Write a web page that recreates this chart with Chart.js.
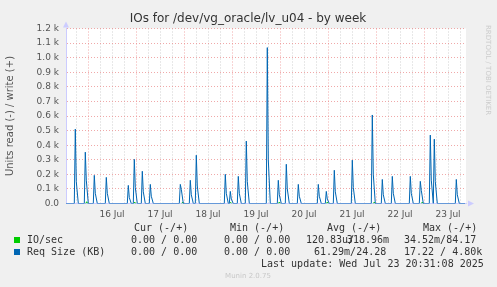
<!DOCTYPE html>
<html>
<head>
<meta charset="utf-8">
<script src="https://cdn.jsdelivr.net/npm/chart.js@4"></script>
<style>
  html, body { margin: 0; padding: 0; background: #f0f0f0; }
</style>
</head>
<body>
<canvas id="ioChart" width="497" height="287"></canvas>
<script>
// hours relative to 16 Jul 00:00
const spikeHours = [-6.35, -1.35, 3.15, 9.15, 20.15, 23.15, 27.15, 31.15, 46.15, 51.15, 54.15,
  68.65, 71.15, 75.15, 79.15, 89.65, 95.15, 99.15, 105.15, 115.15, 119.15, 123.15, 132.15,
  142.15, 147.15, 152.15, 161.15, 166.15, 171.15, 173.15, 184.15];
const spikePeaks = [510, 352, 193, 179, 124, 303, 221, 131, 131, 159, 331,
  200, 83, 186, 428, 1069, 159, 269, 131, 131, 83, 228, 297,
  607, 165, 186, 186, 152, 469, 441, 165];
const spikeTails = [150, 160, 70, 70, 40, 110, 80, 50, 97, 60, 120,
  70, 30, 70, 150, 300, 60, 100, 50, 50, 30, 80, 110,
  200, 60, 70, 70, 90, 160, 150, 60];
const ioBumpHours = [-0.65, 23.35, 47.35, 71.35, 95.65, 119.65, 143.15, 167.15];
const ioBumpValues = [12, 10, 10, 8, 10, 10, 10, 10];
const dayLabels = ['16 Jul', '17 Jul', '18 Jul', '19 Jul', '20 Jul', '21 Jul', '22 Jul', '23 Jul'];
const startHour = -11;
const endHour = 189;
const lastDataHour = 188.5;

const legendHeaders = ['Cur (-/+)', 'Min (-/+)', 'Avg (-/+)', 'Max (-/+)'];
const ioStats = ['0.00 / 0.00', '0.00 / 0.00', '120.83u/', '318.96m', '34.52m/84.17'];
const reqStats = ['0.00 / 0.00', '0.00 / 0.00', '61.29m/24.28', '17.22 / 4.80k'];
const lastUpdate = 'Last update: Wed Jul 23 20:31:08 2025';

function spikeSeries() {
  const pts = [{x: startHour, y: 0}];
  for (let i = 0; i < spikeHours.length; i++) {
    const t = spikeHours[i];
    pts.push({x: t - 0.5, y: 0});
    pts.push({x: t, y: spikePeaks[i]});
    pts.push({x: t + 0.5, y: spikeTails[i]});
    pts.push({x: t + 1.5, y: 0});
  }
  pts.push({x: lastDataHour, y: 0});
  return pts;
}

// the flat zero stretches sit under the blue line, keep only the bumps
function ioSeries() {
  const pts = [];
  for (let i = 0; i < ioBumpHours.length; i++) {
    const t = ioBumpHours[i];
    pts.push({x: t - 0.5, y: 0});
    pts.push({x: t, y: ioBumpValues[i]});
    pts.push({x: t + 0.5, y: 0});
    pts.push({x: t + 0.75, y: null});
  }
  return pts;
}

const muninDecor = {
  id: 'muninDecor',
  beforeDraw(chart) {
    const {ctx, chartArea: a} = chart;
    ctx.save();
    ctx.fillStyle = '#f0f0f0';
    ctx.fillRect(0, 0, chart.width, chart.height);
    ctx.fillStyle = '#ffffff';
    ctx.fillRect(a.left, a.top, a.right - a.left, a.bottom - a.top);
    ctx.restore();
  },
  afterDraw(chart) {
    const {ctx, chartArea: a} = chart;
    ctx.save();
    // axis arrows
    ctx.fillStyle = '#ccccff';
    ctx.beginPath();
    ctx.moveTo(a.left - 3, a.top - 1);
    ctx.lineTo(a.left, a.top - 7);
    ctx.lineTo(a.left + 3, a.top - 1);
    ctx.fill();
    ctx.beginPath();
    ctx.moveTo(a.right + 2, a.bottom - 3);
    ctx.lineTo(a.right + 8, a.bottom);
    ctx.lineTo(a.right + 2, a.bottom + 3);
    ctx.fill();

    // title
    ctx.fillStyle = '#333';
    ctx.font = '12px "DejaVu Sans"';
    ctx.textAlign = 'center';
    ctx.textBaseline = 'middle';
    ctx.fillText('IOs for /dev/vg_oracle/lv_u04 - by week', 248, 19);

    // legend
    ctx.font = '10px "DejaVu Sans Mono"';
    ctx.textAlign = 'left';
    const hx = [134, 230, 327, 423];
    legendHeaders.forEach((h, i) => ctx.fillText(h, hx[i], 228));

    ctx.fillStyle = '#00cc00';
    ctx.fillRect(14, 237, 6, 6);
    ctx.fillStyle = '#0066b3';
    ctx.fillRect(14, 249, 6, 6);

    ctx.fillStyle = '#333';
    ctx.fillText('IO/sec', 27, 240);
    ctx.fillText(ioStats[0], 131, 240);
    ctx.fillText(ioStats[1], 224, 240);
    ctx.fillText(ioStats[2], 306, 240);
    ctx.textAlign = 'right';
    ctx.fillText(ioStats[3], 389, 240);
    ctx.textAlign = 'left';
    ctx.fillText(ioStats[4], 404, 240);

    ctx.fillText('Req Size (KB)', 27, 252);
    ctx.fillText(reqStats[0], 131, 252);
    ctx.fillText(reqStats[1], 224, 252);
    ctx.fillText(reqStats[2], 314, 252);
    ctx.fillText(reqStats[3], 404, 252);

    ctx.fillText(lastUpdate, 261, 264);

    ctx.fillStyle = '#c8c8c8';
    ctx.font = '7px "DejaVu Sans"';
    ctx.textAlign = 'center';
    ctx.fillText('Munin 2.0.75', 248, 276);

    ctx.translate(488, 25);
    ctx.rotate(Math.PI / 2);
    ctx.textAlign = 'left';
    ctx.fillStyle = '#cccccc';
    ctx.font = '7px "DejaVu Sans"';
    ctx.fillText('RRDTOOL / TOBI OETIKER', 0, 0);
    ctx.restore();
  }
};

new Chart(document.getElementById('ioChart'), {
  type: 'line',
  data: {
    datasets: [
      {
        label: 'Req Size (KB)',
        data: spikeSeries(),
        borderColor: '#0066b3',
        borderWidth: 1,
        pointRadius: 0,
        tension: 0,
        order: 0,
      },
      {
        label: 'IO/sec',
        data: ioSeries(),
        borderColor: '#00cc00',
        borderWidth: 1,
        pointRadius: 0,
        tension: 0,
        spanGaps: false,
        order: 1,
      },
    ],
  },
  options: {
    responsive: false,
    animation: false,
    layout: {
      padding: {top: 28.5, left: 0, right: 31, bottom: 63.5},
    },
    plugins: {
      legend: {display: false},
      tooltip: {enabled: false},
    },
    scales: {
      x: {
        type: 'linear',
        min: startHour,
        max: endHour,
        afterBuildTicks(scale) {
          const ticks = [];
          for (let h = -6; h < endHour; h += 6) {
            ticks.push({value: h});
          }
          scale.ticks = ticks;
        },
        afterFit(scale) {
          scale.height = 20;
        },
        ticks: {
          autoSkip: false,
          maxRotation: 0,
          padding: 6,
          color: '#555',
          font: {family: 'DejaVu Sans', size: 9},
          callback(value) {
            if (((value % 24) + 24) % 24 === 12) {
              return dayLabels[(value - 12) / 24] || '';
            }
            return '';
          },
        },
        grid: {
          drawTicks: false,
          color(ctx) {
            const v = ctx.tick ? ctx.tick.value : 1;
            return v % 24 === 0 ? 'rgba(235, 140, 140, 0.75)' : 'rgba(200, 200, 200, 0.85)';
          },
        },
        border: {color: '#ccccff', dash: [1, 2]},
      },
      y: {
        min: 0,
        max: 1200,
        afterFit(scale) {
          scale.width = 66;
        },
        ticks: {
          stepSize: 100,
          padding: 7,
          color: '#555',
          font: {family: 'DejaVu Sans', size: 9},
          callback(value) {
            return value === 0 ? '0.0' : (value / 1000).toFixed(1) + ' k';
          },
        },
        grid: {
          drawTicks: false,
          color: 'rgba(235, 140, 140, 0.75)',
        },
        border: {color: '#ccccff', dash: [1, 2]},
        title: {
          display: true,
          text: 'Units read (-) / write (+)',
          color: '#555',
          font: {family: 'DejaVu Sans', size: 10},
          padding: {top: 4, bottom: 0},
        },
      },
    },
  },
  plugins: [muninDecor],
});
</script>
</body>
</html>
